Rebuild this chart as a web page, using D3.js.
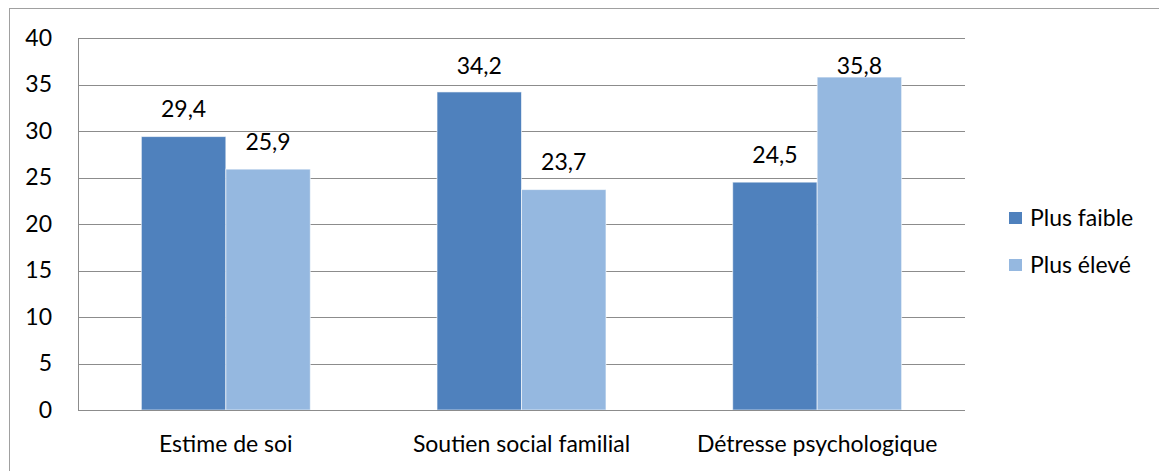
<!DOCTYPE html>
<html>
<head>
<meta charset="utf-8">
<script src="https://cdn.jsdelivr.net/npm/d3@7"></script>
<style>
  body { margin: 0; background: #fff; }
  text { font-family: Lato, "Open Sans", sans-serif; fill: #000; }
</style>
</head>
<body>
<svg id="chart" width="1159" height="471"></svg>
<script>
const categories = ["Estime de soi", "Soutien social familial", "Détresse psychologique"];
const seriesNames = ["Plus faible", "Plus élevé"];
const plusFaible = [29.4, 34.2, 24.5];
const plusEleve = [25.9, 23.7, 35.8];
const yTicks = [0, 5, 10, 15, 20, 25, 30, 35, 40];
const colors = ["#4f81bd", "#95b8e0"];

const svg = d3.select("#chart");
const plotLeft = 78, plotRight = 965, plotTop = 38, plotBottom = 410;
const fontSize = "23px";

// outer chart border
svg.append("rect")
    .attr("x", 9.5).attr("y", 8.5)
    .attr("width", 1200).attr("height", 500)
    .attr("fill", "none").attr("stroke", "#a0a0a0").attr("stroke-width", 1);

const y = d3.scaleLinear().domain([0, 40]).range([plotBottom, plotTop]);
const x0 = d3.scaleBand().domain(categories).range([plotLeft, plotRight]).paddingInner(0).paddingOuter(0);
const x1 = d3.scaleBand().domain(seriesNames).range([0, x0.bandwidth()]).paddingInner(0).paddingOuter(0.75);

// gridlines
svg.append("g")
    .selectAll("line")
    .data(yTicks.filter(d => d > 0))
    .join("line")
    .attr("x1", plotLeft).attr("x2", plotRight)
    .attr("y1", d => Math.round(y(d)) + 0.5).attr("y2", d => Math.round(y(d)) + 0.5)
    .attr("stroke", "#8c8c8c").attr("stroke-width", 1);

const rows = categories.map((c, i) => ({ cat: c, values: [plusFaible[i], plusEleve[i]] }));

const groups = svg.append("g")
    .selectAll("g")
    .data(rows)
    .join("g")
    .attr("transform", d => `translate(${x0(d.cat)},0)`);

groups.selectAll("rect")
    .data(d => d.values.map((v, j) => ({ name: seriesNames[j], v, j })))
    .join("rect")
    .attr("x", d => x1(d.name))
    .attr("y", d => y(d.v))
    .attr("width", x1.bandwidth())
    .attr("height", d => y(0) - y(d.v))
    .attr("fill", d => colors[d.j])
    .attr("stroke", "#ffffff")
    .attr("stroke-opacity", 0.6)
    .attr("stroke-width", 1);

groups.selectAll("text")
    .data(d => d.values.map((v, j) => ({ name: seriesNames[j], v, j })))
    .join("text")
    .attr("x", d => x1(d.name) + x1.bandwidth() / 2)
    .attr("y", d => Math.max(y(d.v) - 19.5, 74))
    .attr("text-anchor", "middle")
    .style("font-size", fontSize)
    .text(d => d3.format(".1f")(d.v).replace(".", ","));

// axes lines
svg.append("line")
    .attr("x1", plotLeft + 0.5).attr("x2", plotLeft + 0.5)
    .attr("y1", plotTop).attr("y2", plotBottom)
    .attr("stroke", "#8c8c8c");
svg.append("line")
    .attr("x1", plotLeft).attr("x2", plotRight)
    .attr("y1", plotBottom + 0.5).attr("y2", plotBottom + 0.5)
    .attr("stroke", "#8c8c8c");

// y tick labels
svg.append("g")
    .selectAll("text")
    .data(yTicks)
    .join("text")
    .attr("x", 52)
    .attr("y", d => y(d) + 7.5)
    .attr("text-anchor", "end")
    .style("font-size", fontSize)
    .text(d => d);

// category labels
svg.append("g")
    .selectAll("text")
    .data(categories)
    .join("text")
    .attr("x", d => x0(d) + x0.bandwidth() / 2)
    .attr("y", 452)
    .attr("text-anchor", "middle")
    .style("font-size", fontSize)
    .text(d => d);

// legend
const legend = svg.append("g")
    .selectAll("g")
    .data(seriesNames)
    .join("g")
    .attr("transform", (d, i) => `translate(1009,${212 + i * 47})`);
legend.append("rect")
    .attr("width", 13).attr("height", 12)
    .attr("fill", (d, i) => colors[i]);
legend.append("text")
    .attr("x", 21).attr("y", 14)
    .style("font-size", fontSize)
    .text(d => d);
</script>
</body>
</html>
